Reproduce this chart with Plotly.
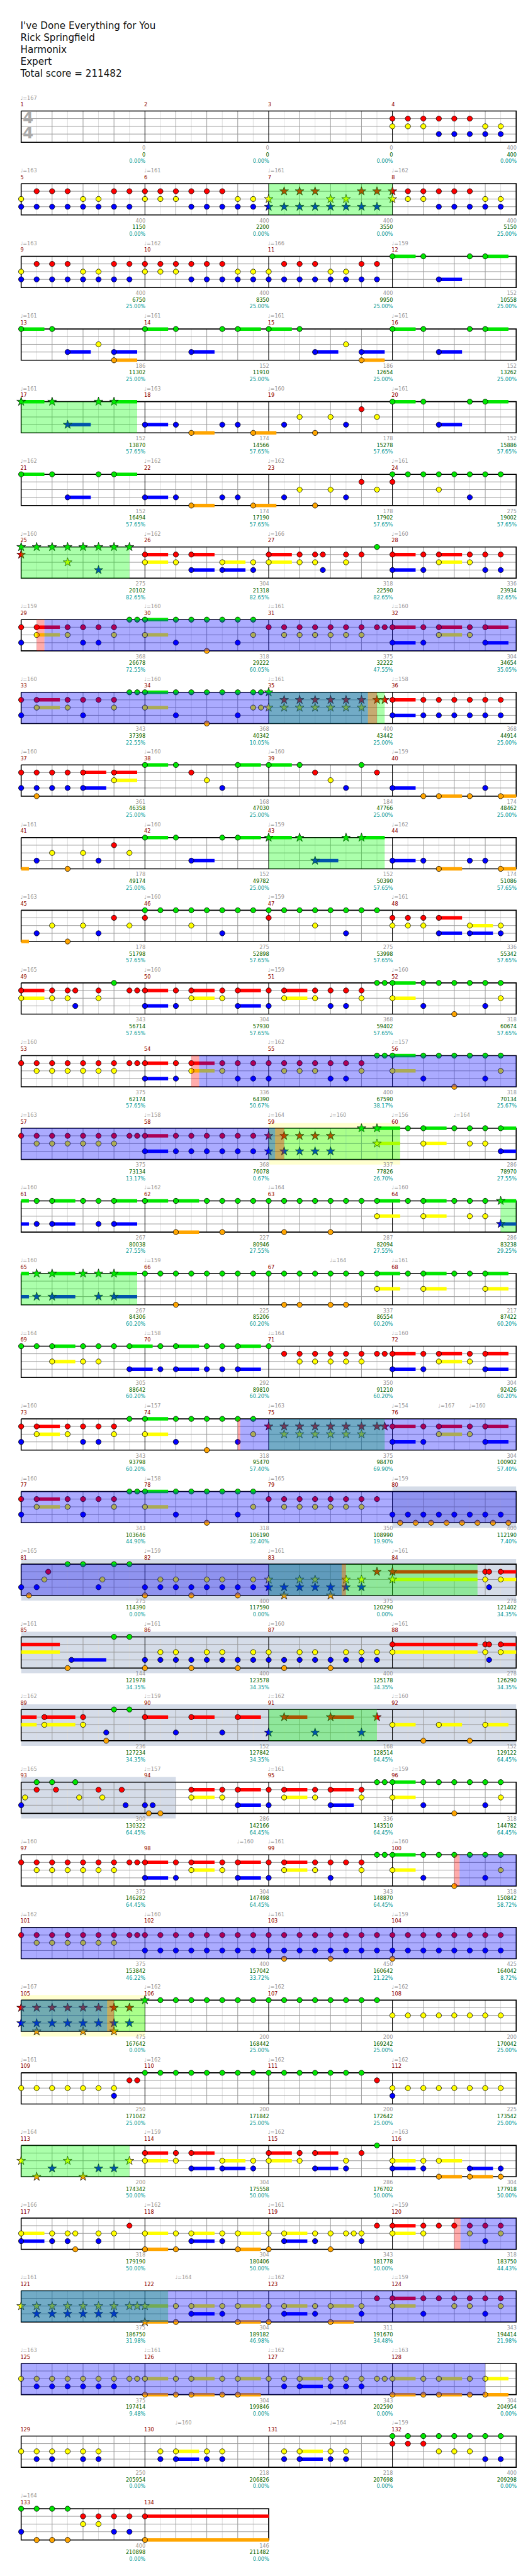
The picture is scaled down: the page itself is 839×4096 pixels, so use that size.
import plotly.graph_objects as go

# ---------------- data ----------------
TITLE_LINES = ["I've Done Everything for You", "Rick Springfield", "Harmonix", "Expert",
               "Total score = 211482"]

# notes per measure: "beat:lanes[~sustain_beats]"  lanes G R Y B O
NOTES_1 = [
    "", "", "",
    "0:RY .5:RY 1:RY 1.5:RB 2:RB 2.5:RB 3:YB 3.5:YB",
    "0:YB .5:RB 1:RB 1.5:RB 2:YB 2.5:YB 3:RB 3.5:RB",
    "0:RY .5:RY 1:RY 1.5:RB 2:RB 2.5:RB 3:YB 3.5:YB",
    "0:YB .5:RB 1:RB 1.5:RB 2:YB 2.5:YB 3:RB 3.5:RB",
    "0:RY .5:RY 1:RY 1.5:RB 2:RB 2.5:RB 3:YB 3.5:YB",
    "0:YB .5:RB 1:RB 1.5:RB 2:YB 2.5:YB 3:RB 3.5:RB",
    "0:RY .5:RY 1:RY 1.5:RB 2:RB 2.5:RB 3:YB 3.5:YB",
    "0:YB .5:RB 1:RB 1.5:RB 2:YB 2.5:YB 3:RB 3.5:RB",
    "0:G~.75 1:G 1.5:B~.75 2.5:G 3:G~.75",
    "0:G~.75 1:G 1.5:B~.75 2.5:Y 3:BO~.75",
    "0:G~.75 1:G 1.5:B~.75 2.5:G 3:G~.75",
    "0:G~.75 1:G 1.5:B~.75 2.5:Y 3:BO~.75",
    "0:G~.75 1:G 1.5:B~.75 2.5:G 3:G~.75",
    "0:G~.75 1:G 1.5:B~.75 2.5:G 3:G~.75",
    "0:B~.75 1:B 1.5:O~.75 2.5:B 3:B 3.5:O~.75",
    ".5:B 1:Y 1.5:O 2:Y 2.5:B 3:R 3.5:Y",
    "0:G~.75 1:G 1.5:B~.75 2.5:G 3:G~.75",
    "0:G~.75 1:G 1.5:B~.75 2.5:G 3:G~.75",
    "0:B~.75 1:B 1.5:O~.75 2.5:B 3:B 3.5:O~.75",
    ".5:B 1:Y 1.5:O 2:Y 2.5:B 3:R 3.5:Y",
    "0:GR .5:G 1:G 1.5:GY 2:G 2.5:GB 3:G 3.5:G",
    "0:GR .5:G 1:G 1.5:GY 2:G 2.5:GB 3:G 3.5:G",
    "0:RY~.75 1:RY 1.5:RB~.75 2.5:YB~.75 3.5:YB",
    "0:RY~.75 1:RY 1.5:RY 1.75:RB 2.5:RY 3:R 3.5:G",
    "0:RB~.75 1:RB 1.5:RY~.75 2.5:RY 3:RB 3.5:RB",
    "0:RB .5:RY~.75 1.5:RY 2:RB 2.5:RB 3:RY 3.5:G 3.75:G",
    "0:GY~.75 1:GB 1.5:G 2:GO 2.5:G 3:GB 3.5:GY",
    "0:R .5:RY 1:RY 1.5:RY 2:RY 2.5:RY 3:RY 3.5:R 3.75:R",
    "0:RB~.75 1:RB 1.5:RY~.75 2.5:RY 3:RB~.75",
    "0:RB .5:RY~.75 1.5:RY 2:RB 2.5:R 3:RY 3.5:G 3.75:G",
    "0:GY~.75 1:GB 1.5:G 2:GO 2.5:G 3:GB 3.5:GY 3.75:GY",
]
NOTES_2 = [
    "0:GY .5:RY 1:RY 1.5:RY 2:RY 2.5:RY 3:RY 3.5:R 3.75:R",
    "0:RB~.75 1:RB 1.5:RB 2:RB 2.5:RB 3:RB 3.5:RB",
    "0:RB .5:RBO 1:RB 1.5:RB 2:RB~.75 3:RY~.75",
    "0:G~.75 1:G 1.5:R 2:Y 2.5:B 3:G~.75",
    "0:G~.75 1:G 1.5:R 2:Y 2.5:B 3:G 3.5:R",
    "0:B~.75 1:O 1.5:O~.75 2.5:O 3:B 3.5:O~.75",
    ".5:B 1:Y 1.5:O 2:Y 2.5:B 3:R 3.5:Y",
    "0:G~.75 1:G 1.5:B~.75 2.5:G 3:G~.75",
    "0:G~.75 1:G 1.5:B~.75 2.5:G 3:G~.75",
    "0:B~.75 1:B 1.5:O~.75 2.5:B 3:B 3.5:O~.75",
    ".5:B 1:Y 1.5:O 2:Y 2.5:B 3:R 3.5:Y",
    "0:GR .5:G 1:G 1.5:GY 2:G 2.5:GB 3:G 3.5:G",
    "0:GR .5:G 1:G 1.5:GY 2:G 2.5:GB 3:G 3.5:G",
    "0:RY .5:RY 1:RY 1.5:RB~.75 2.5:YB~.75 3.5:YB",
    "0:RY~.75 1:RY 1.5:RY 1.75:RB 2.5:RY 3:G 3.5:R 3.75:R",
    "0:RB~.75 1:RB 1.5:RY~.75 2.5:RY 3:RB~.75",
    "0:RB .5:RY~.75 1.5:RY 2:RB 2.5:RB 3:RY 3.5:G 3.75:G",
    "0:GY~.75 1:GB 1.5:G 2:GO 2.5:G 3:GB 3.5:GY",
    "0:R .5:RY 1:RY 1.5:RY 2:RY 2.5:RY 3:RY 3.5:R 3.75:R",
    "0:RB~.75 1:RB 1.5:RY~.75 2.5:RY 3:RB 3.5:RB",
    "0:RB .5:RY 1:RY 1.5:RY 2:RB 2.5:RB 3:RY 3.5:G 3.75:G",
    "0:GY~.75 1:GB 1.5:G 2:GO 2.5:G 3:GB 3.5:GY",
    "0:R .5:RY 1:RY 1.5:RY 2:RY 2.5:RY 3:RY 3.5:R 3.75:R",
    "0:RB~.75 1:RB 1.5:RB 2:RB 2.5:RB 3:RB 3.5:RB",
    "0:RB .5:RB 1:RB 1.5:RB 2:RB 3:G 3.5:GY~.75",
    ".5:G 1:GY~.75 2:G 2.5:GY 3:GY 3.5:GB~.75",
    ".5:GB 1:GB~.75 2:G 2.5:GB 3:GB~.75",
    "0:G~.75 1:GO~.75 2:G 2.5:GO 3:G 3.5:G",
    "0:G .5:GO 1:G 1.5:G 2:GO 2.5:G 3:G 3.5:GY~.75",
    ".5:G 1:GY~.75 2:G 2.5:GY 3:GY 3.5:GB~.75",
    ".5:GB 1:GB~.75 2:G 2.5:GB 3:GB~.75",
    "0:G .5:G 1:GO 1.5:G 2:G 2.5:G 3:G 3.5:G",
    "0:G .5:GO 1:GO 1.5:G 2:GO 2.5:GO 3:G 3.5:GY~.75",
    ".5:G 1:GY~.75 2:G 2.5:G 3:GY~.75",
]
NOTES_3 = [
    "0:G .5:G 1:GY~.75 2:GY 2.5:GY 3:G 3.5:GB~.75",
    ".5:GB 1:GB~.75 2:GB 2.5:GB 3:GB~.75",
    "0:G .5:R 1:RY 1.5:RY 2:RY 2.5:RY 3:RY 3.5:R 3.75:R",
    "0:RB~.75 1:RB 1.5:RY~.75 2.5:RY 3:RB~.75",
    "0:RB .5:RY~.75 1.5:RY 2:RB 2.5:RB 3:RY 3.5:G",
    "0:GY~.75 1:GB 1.5:G 2:GO 2.5:G 3:GB 3.5:GY",
    "0:R .5:RY 1:RY 1.5:RY 2:RY 2.5:RY 3:RY 3.5:R 3.75:R",
    "0:RB~.75 1:RB 1.5:RY~.75 2.5:RY 3:RB~.75",
    "0:RB .5:RY~.75 1.5:RY 2:RB 2.5:R 3:RY 3.5:G 3.75:G",
    "0:GY~.75 1:GB 1.5:G 2:GO 2.5:G 3:GB 3.5:GY",
    "0:R .5:RY 1:RY 1.5:RY 2:RY 2.5:RY 3:RY 3.5:R",
    "0:B .25:O .5:B .75:O 1:B 1.25:O 1.5:B 1.75:O 2:B 2.25:O 2.5:B 2.75:O 3:B 3.25:O 3.5:B 3.75:O",
    "0:B .25:O .5:B .75:Y .875:R 1.5:G 2:G 2.5:B 2.625:Y 3:G 3.5:G",
    "0:BO .5:YB 1:YB 1.5:BO 2:YB 2.5:YB 3:BO 3.5:YB",
    "0:YB .5:BO 1:YB 1.5:YB 2:BO 2.5:YB 3:YB 3.5:R",
    "0:RY~2.75 3:RY 3.125:RB 3.5:RY~1.75",
    "1.5:O 1.625:B~1.125 3:G 3.5:G",
    "0:BO .5:YB 1:YB 1.5:BO 2:YB 2.5:YB 3:BO 3.5:YB",
    "0:YB .5:BO 1:YB 1.5:YB 2:BO 2.5:YB 3:YB 3.5:YB",
    "0:RY~2.75 3:RY 3.125:RB 3.5:RY~1",
    ".75:RY~1 2:RY 2.75:BO 3:G 3.5:G",
    "0:R~.75 1:B 1.5:R~.75 2.5:B 3:R~.75",
    "0:B .5:R~.75 1.5:B 2:R~.75 3:B 3.5:R",
    "0:Y~.75 1:O 1.5:Y~.75 2.5:O 3:Y~.75",
    "0:B .125:Y .5:GR 1:G 1.125:R 1.75:G 1.875:Y 2.5:R 2.625:Y 3.25:R 3.375:B",
    "0:B .125:O .25:B .5:O 1.5:RY~.75 2.5:RY 3:RB~.75",
    "0:RB .5:RY~.75 1.5:RY 2:RB~.75 3:RY 3.5:G 3.75:G",
    "0:GY~.75 1:GB 1.5:G 2:GO 2.5:G 3:GB 3.5:GY",
    "0:R .5:RY 1:RY 1.5:RY 2:RY 2.5:RY 3:RY 3.5:R 3.75:R",
    "0:RB~.75 1:RB 1.5:RY~.75 2.5:RY 3:RB~.75",
    "0:RB .5:RY~.75 1.5:RY 2:RB 2.5:R 3:RY 3.5:G 3.75:G",
    "0:GY~.75 1:GB 1.5:G 2:GO 2.5:G 3:GB 3.5:GY",
]
NOTES_4 = [
    "0:R .5:RY 1:RY 1.5:RY 2:RY 2.5:RY 3:RY 3.5:R 3.75:R",
    "0:RB .5:RB 1:RB 1.5:RB 2:RB 2.5:RB 3:RB 3.5:RB",
    "0:RB .5:RBO 1:RB 1.5:RB 2:RBO 2.5:RB 3:RB 3.5:RB",
    "0:RBO .5:RB 1:RB 1.5:RB 2:RB 2.5:RB 3:RB 3.5:RB",
    "0:RB .5:RBO 1:RB 1.5:RB 2:RBO 2.5:RB 3:RBO 3.5:RB",
    "0:G .5:G 1:G 1.5:G 2:G 2.5:G 3:G 3.5:G",
    "0:G .5:G 1:G 1.5:G 2:G 2.5:G 3:G 3.5:G",
    "0:Y .5:Y 1:Y 1.5:Y 2:Y 2.5:Y 3:Y 3.5:Y",
    "0:Y .5:Y 1:Y 1.5:Y 2:Y 2.5:Y 3:YB 3.5:R 3.75:R",
    "0:G .5:G 1:G 1.5:G 2:G 2.5:G 3:G 3.5:G",
    "0:G .5:G 1:G 1.5:G 2:G 2.5:G 3:G 3.5:R",
    "0:YB .5:Y 1:Y 1.5:Y 2:Y 2.5:Y 3:Y 3.5:Y",
    "0:Y .5:O 1:B 1.5:Y 2:O 2.5:B 3:B 3.5:Y",
    "0:RY~.75 1:RY 1.5:RB~.75 2.5:YB~.75 3.5:YB",
    "0:RY~.75 1:RY 1.5:RB~.75 2.5:YB 3:R 3.5:G",
    "0:YB~.75 1:YB 1.5:YO~.75 2.5:BO~.75 3.5:BO",
    "0:YB~.75 1:YB 1.5:YB 1.75:YO 2.5:YB 3:Y 3.5:R",
    "0:YO~.75 1:YO 1.5:YB~.75 2.5:YB 3:YO~.75",
    "0:YO .5:YB~.75 1.5:YB 2:YO 2.5:Y 2.75:Y 3:YB 3.5:R",
    "0:RY~.75 1:RY 1.5:R 2:R 2.5:RY 3:RB 3.5:RY",
    "0:Y .5:YB 1:YB 1.5:YB 2:YB 2.5:YB 3:YB 3.5:Y 3.75:Y",
    "0:YO~.75 1:YO 1.5:YB~.75 2.5:YB 3:YO~.75",
    "0:YO .5:YB~.75 1.5:YB 2:YO~.75 3:YB 3.5:R",
    "0:RY~.75 1:RB 1.5:R 2:RY 2.5:RY 3:RB 3.5:RY",
    "0:Y .5:YB 1:YB 1.5:YB 2:YB 2.5:YB 3:YB 3.5:Y 3.75:Y",
    "0:YO~.75 1:YO 1.5:YO~.75 2.5:YO 3:YO~.75",
    "0:Y .5:YB 1:YB~.75 2:YB 2.5:YB 3:YB 3.5:Y 3.75:Y",
    "0:YO~.75 1:YO 1.5:YO~.75 2.5:YO 3:YO~.75",
    "0:Y .5:YB 1:YB 1.5:Y 2:YB 2.5:YB",
    ".5:YB 1:YB~.75 2:YB 2.5:YB",
    ".5:YB 1:YB~.75 2:YB 2.5:YB",
    "0:GR .5:GR 1:GR 1.5:GY 2:GY 2.5:GY 3:GB 3.5:GB",
    "0:GB .5:GO 1:GO 1.5:GO 2:RY 2.5:RY 3:RB 3.5:RB",
    "0:RO~4",
]

# (measure, beat, bpm)
TEMPOS = [(1,0,167),(5,0,163),(6,0,161),(7,0,161),(8,0,162),(9,0,163),(10,0,162),(11,0,166),(12,0,159),
    (13,0,161),(14,0,161),(15,0,161),(16,0,161),(17,0,161),(18,0,163),(19,0,160),(20,0,161),(21,0,162),
    (22,0,162),(23,0,162),(24,0,161),(25,0,160),(26,0,162),(27,0,166),(28,0,160),(29,0,159),(30,0,160),
    (31,0,161),(32,0,160),(33,0,160),(34,0,160),(35,0,161),(36,0,158),(37,0,160),(38,0,160),(39,0,160),
    (40,0,159),(41,0,161),(42,0,160),(43,0,159),(44,0,162),(45,0,163),(46,0,160),(47,0,159),(48,0,161),
    (49,0,165),(50,0,160),(51,0,159),(52,0,160),(53,0,160),(55,0,162),(56,0,157),(57,0,163),(58,0,158),
    (59,0,164),(59,2,160),(60,0,156),(60,2,164),(61,0,160),(62,0,162),(63,0,164),(64,0,160),(65,0,160),
    (66,0,159),(67,2,164),(68,0,161),(69,0,164),(70,0,158),(71,0,164),(72,0,160),(73,0,160),(74,0,157),
    (75,0,163),(76,0,154),(76,1.5,167),(76,2.5,160),(77,0,160),(78,0,158),(79,0,165),(80,0,159),(81,0,165),
    (82,0,159),(83,0,161),(84,0,161),(85,0,161),(86,0,161),(87,0,160),(88,0,161),(89,0,162),(90,0,159),
    (91,0,162),(92,0,160),(93,0,165),(94,0,157),(95,0,161),(96,0,159),(97,0,160),(98,3,160),(99,0,161),
    (100,0,160),(101,0,162),(102,0,160),(103,0,161),(104,0,159),(105,0,167),(106,0,162),(107,0,162),
    (108,0,162),(109,0,161),(110,0,162),(111,0,162),(112,0,162),(113,0,164),(114,0,159),(115,0,162),
    (116,0,163),(117,0,166),(118,0,162),(119,0,161),(120,0,159),(121,0,161),(122,1,164),(123,0,162),
    (124,0,159),(125,0,163),(126,0,161),(127,0,162),(128,0,163),(130,1,160),(131,2,164),(132,0,159),
    (133,0,164)]

MEASURE_SCORE = [0,0,0,400, 400,400,400,400, 400,400,400,152, 186,152,186,152, 152,174,178,152,
    152,174,178,275, 275,304,318,336, 368,318,375,304, 343,368,400,368, 361,168,184,174,
    178,152,152,174, 178,275,275,336, 343,304,368,318, 375,336,400,318, 375,368,337,286,
    267,227,287,286, 267,225,337,217, 305,292,350,304, 343,318,375,304, 343,318,350,400,
    275,400,375,278, 144,400,400,278, 236,152,168,152, 300,286,336,318, 375,304,343,318,
    375,400,450,425, 475,200,200,200, 250,200,200,225, 200,304,286,304, 318,304,343,318,
    375,304,311,343, 375,304,343,304, 250,218,218,400, 400,146]

TOTAL_SCORE = [0,0,0,400, 1150,2200,3550,5150, 6750,8350,9950,10558, 11302,11910,12654,13262,
    13870,14566,15278,15886, 16494,17190,17902,19002, 20102,21318,22590,23934, 26678,29222,32222,34654,
    37398,40342,43442,44914, 46358,47030,47766,48462, 49174,49782,50390,51086, 51798,52898,53998,55342,
    56714,57930,59402,60674, 62174,64390,67590,70134, 73134,76078,77826,78970, 80038,80946,82094,83238,
    84306,85206,86554,87422, 88642,89810,91210,92426, 93798,95470,98470,100902, 103646,106190,108990,112190,
    114390,117590,120290,121402, 121978,123578,125178,126290, 127234,127842,128514,129122,
    130322,142166,143510,144782, 146282,147498,148870,150842, 153842,157042,160642,164042,
    167642,168442,169242,170042, 171042,171842,172642,173542, 174342,175558,176702,177918,
    179190,180406,181778,183750, 186750,189182,191670,194414, 197414,199846,202590,204954,
    205954,206826,207698,209298, 210898,211482]

PERCENT = ([0.0]*7 + [25.0]*9 + [57.65]*8 + [82.65]*4 +
    [72.55,60.05,47.55,35.05,22.55,10.05,25.0,25.0] + [25.0]*6 + [57.65]*11 +
    [50.67,38.17,25.67,13.17,0.67,26.70,27.55,27.55,27.55,27.55,29.25] + [60.20]*9 +
    [57.40,69.90,57.40,44.90,32.40,19.90,7.40,0.0,0.0,0.0] + [34.35]*7 + [64.45]*9 +
    [58.72,46.22,33.72,21.22,8.72,0.0] + [25.0]*7 + [50.0]*7 +
    [44.43,31.98,46.98,34.48,21.98,9.48] + [0.0]*9)

# ((measure, beat) start, (measure, beat) end)
SP_PHRASES = [((7,0),(8,0)), ((17,0),(17,3.75)), ((25,0),(25,3.5)), ((35,0),(35,3.75)),
    ((43,0),(43,3.75)), ((59,0),(60,0.25)), ((64,3.5),(65,3.75)), ((75,0),(75,3.75)),
    ((83,0),(84,2.75)), ((91,0),(91,3.5)), ((105,0),(106,0)), ((113,0),(113,3.5)),
    ((121,0),(122,0.75))]
ACTIVATIONS = [((29,0.75),(35,3.21)), ((54,1.75),(59,0.21)), ((74,3.08),(83,2.36)),
    ((100,2.17),(105,2.78)), ((120,2.2),(128,3.0))]
SQUEEZES = [((29,0.5),(29,0.75)), ((35,3.21),(35,3.5)), ((54,1.5),(54,1.75)), ((59,0.21),(59,0.5)),
    ((74,3.0),(74,3.08)), ((83,2.36),(83,2.5)), ((100,2.0),(100,2.17)), ((105,2.78),(105,3.0)),
    ((120,2.0),(120,2.2))]
YELLOW_BANDS = [((59,0),(60,0.25)), ((105,0),(106,0))]
SOLO_BANDS = [((80,0),(94,1.0))]

# ---------------- layout constants ----------------
S = 0.819
X0, MW, BW = 31.3, 240.0, 60.0
TOP0, PITCH = 205.7, 141.0
LANE_OFF = [0.0, 14.7, 29.7, 44.7, 60.6]
STAFF_H = 60.6
N_MEAS = 134
N_ROWS = (N_MEAS + 3) // 4
LANE_COL = ["#00e600", "#ff0000", "#ffff00", "#0000ff", "#ffa500"]
FONT = "DejaVu Sans"

MEASURE_NOTES = NOTES_1 + NOTES_2 + NOTES_3 + NOTES_4


def gbeat(m, b):
    return (m - 1) * 4 + b


def top(r):
    return TOP0 + r * PITCH


def meas_x(m, b=0.0):
    return X0 + ((m - 1) % 4) * MW + b * BW


def split_span(g0, g1):
    segs = []
    r = int(g0 // 16)
    while True:
        rs = r * 16
        a, b = max(g0, rs), min(g1, rs + 16)
        if b - a > 1e-9:
            segs.append((r, X0 + (a - rs) * BW, X0 + (b - rs) * BW))
        if g1 <= rs + 16 + 1e-9:
            break
        r += 1
    return segs


def parse(s):
    out = []
    for tok in s.split():
        pos, rest = tok.split(":")
        if "~" in rest:
            lanes, sus = rest.split("~")
            sus = float(sus)
        else:
            lanes, sus = rest, 0.0
        for ch in lanes:
            out.append((float(pos), "GRYBO".index(ch), sus))
    return out


sp_ranges = [(gbeat(*a), gbeat(*b)) for a, b in SP_PHRASES]


def is_star(g):
    return any(a - 1e-6 <= g <= b + 1e-6 for a, b in sp_ranges)


fig = go.Figure()

# ---------------- grid ----------------
light_x, light_y, beat_x, beat_y, lane_x, lane_y, blk_x, blk_y, bord_x, bord_y = ([] for _ in range(10))
for r in range(N_ROWS):
    nm = min(4, N_MEAS - 4 * r)
    t = top(r)
    b = t + STAFF_H
    right = X0 + nm * MW
    for k in range(nm * 4):
        x = X0 + (k + 0.5) * BW
        light_x += [x, x, None]; light_y += [t, b, None]
        if k % 4:
            x = X0 + k * BW
            beat_x += [x, x, None]; beat_y += [t, b, None]
    for ln in (1, 2, 3):
        y = t + LANE_OFF[ln]
        lane_x += [X0, right, None]; lane_y += [y, y, None]
    for k in range(1, nm):
        x = X0 + k * MW
        blk_x += [x, x, None]; blk_y += [t, b, None]
    bord_x += [X0, right, right, X0, X0, None]
    bord_y += [t, t, b, b, t, None]

for xs, ys, col, w in [(light_x, light_y, "#dddddd", 1), (beat_x, beat_y, "#9a9a9a", 1),
                       (lane_x, lane_y, "#9a9a9a", 1), (blk_x, blk_y, "#000000", 1),
                       (bord_x, bord_y, "#000000", 1.6)]:
    fig.add_trace(go.Scatter(x=xs, y=ys, mode="lines", line=dict(color=col, width=w),
                             hoverinfo="skip"))

# time signature
fig.add_trace(go.Scatter(x=[44.5, 44.5], y=[221.5, 251.0], mode="text", text=["4", "4"],
                         textfont=dict(family=FONT, size=30 * S, color="#aaaaaa", weight="bold"),
                         textposition="middle center", hoverinfo="skip"))

# ---------------- notes ----------------
sus_poly = {ln: ([], []) for ln in range(5)}
circ = {ln: ([], []) for ln in range(5)}
star = {ln: ([], []) for ln in range(5)}
HALF = 3.35
for m, s in enumerate(MEASURE_NOTES, start=1):
    for b, ln, sus in parse(s):
        g = gbeat(m, b)
        r = (m - 1) // 4
        x = meas_x(m, b)
        y = top(r) + LANE_OFF[ln]
        if sus > 0:
            for rr, xa, xb in split_span(g, g + sus):
                yy = top(rr) + LANE_OFF[ln]
                px, py = sus_poly[ln]
                px += [xa, xb, xb, xa, xa, None]
                py += [yy - HALF, yy - HALF, yy + HALF, yy + HALF, yy - HALF, None]
        tgt = star if is_star(g) else circ
        tgt[ln][0].append(x)
        tgt[ln][1].append(y)

for ln in range(5):
    px, py = sus_poly[ln]
    if px:
        fig.add_trace(go.Scatter(x=px, y=py, mode="lines", fill="toself", fillcolor=LANE_COL[ln],
                                 line=dict(width=0, color=LANE_COL[ln]), hoverinfo="skip"))
for ln in range(5):
    cx, cy = circ[ln]
    fig.add_trace(go.Scatter(x=cx, y=cy, mode="markers", hoverinfo="skip",
                             marker=dict(symbol="circle", size=8.3, color=LANE_COL[ln],
                                         line=dict(color="#000000", width=0.8))))
    sx, sy = star[ln]
    if sx:
        fig.add_trace(go.Scatter(x=sx, y=sy, mode="markers", hoverinfo="skip",
                                 marker=dict(symbol="star", size=10.5, color=LANE_COL[ln],
                                             line=dict(color="#000000", width=0.7))))

# ---------------- overlays ----------------
shapes = []


def add_spans(spans, color, opacity, layer, pad):
    for a, b in spans:
        for rr, xa, xb in split_span(gbeat(*a), gbeat(*b)):
            t = top(rr)
            shapes.append(dict(type="rect", xref="x", yref="y", x0=xa, x1=xb,
                               y0=t - pad, y1=t + STAFF_H + pad, fillcolor=color,
                               opacity=opacity, line=dict(width=0), layer=layer))


add_spans(SOLO_BANDS, "#d5dce8", 1.0, "below", 10)
add_spans(YELLOW_BANDS, "#ffffcf", 1.0, "below", 10)
add_spans(SP_PHRASES, "#00ff00", 0.33, "above", 0)
add_spans(ACTIVATIONS, "#0000ff", 0.33, "above", 0)
add_spans(SQUEEZES, "#ff0000", 0.33, "above", 0)

# ---------------- texts ----------------
fig.add_trace(go.Scatter(x=[30.0] * 5, y=[41.7, 65.0, 88.3, 111.0, 134.3], mode="text",
                         text=TITLE_LINES, textposition="middle right", hoverinfo="skip",
                         textfont=dict(family=FONT, size=18.5 * S, color="#111111")))

tx, ty, tt = [], [], []
for m, b, bpm in TEMPOS:
    tx.append(meas_x(m, b) - 1.5)
    ty.append(top((m - 1) // 4) - 24.5)
    tt.append(f"\u2669={bpm}")
fig.add_trace(go.Scatter(x=tx, y=ty, mode="text", text=tt, textposition="middle right",
                         hoverinfo="skip", textfont=dict(family=FONT, size=10 * S, color="#999999")))

nx = [meas_x(m) - 1.5 for m in range(1, N_MEAS + 1)]
ny = [top((m - 1) // 4) - 11.5 for m in range(1, N_MEAS + 1)]
fig.add_trace(go.Scatter(x=nx, y=ny, mode="text", text=[str(m) for m in range(1, N_MEAS + 1)],
                         textposition="middle right", hoverinfo="skip",
                         textfont=dict(family=FONT, size=10 * S, color="#8b0000")))

ex = [meas_x(m) + MW + 1.0 for m in range(1, N_MEAS + 1)]
bot = [top((m - 1) // 4) + STAFF_H for m in range(1, N_MEAS + 1)]
for vals, dy, col in [([str(v) for v in MEASURE_SCORE], 12.0, "#999999"),
                      ([str(v) for v in TOTAL_SCORE], 25.0, "#006400"),
                      ([f"{p:.2f}%" for p in PERCENT], 38.0, "#009a9a")]:
    fig.add_trace(go.Scatter(x=ex, y=[b + dy for b in bot], mode="text", text=vals,
                             textposition="middle left", hoverinfo="skip",
                             textfont=dict(family=FONT, size=10 * S, color=col)))

fig.update_layout(width=839, height=4096, margin=dict(l=0, r=0, t=0, b=0),
                  paper_bgcolor="white", plot_bgcolor="white", showlegend=False,
                  shapes=shapes,
                  xaxis=dict(range=[0, 1024], visible=False, fixedrange=True),
                  yaxis=dict(range=[4999, 0], visible=False, fixedrange=True))
fig.write_html("out.html")
